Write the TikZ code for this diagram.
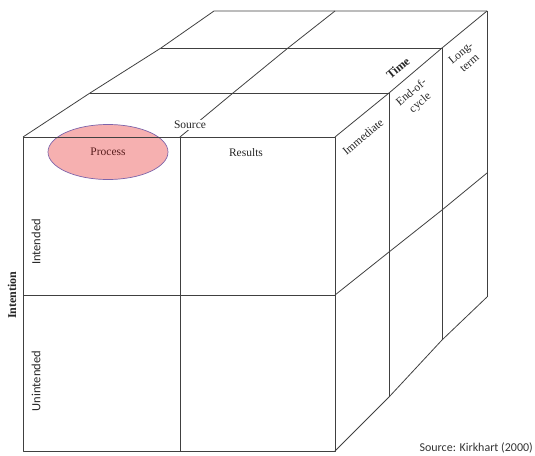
\documentclass[tikz,border=0pt]{standalone}
\usepackage{fontspec}
\usetikzlibrary{shapes.geometric}
\setmainfont{Liberation Serif}
\newfontfamily\notefont{Carlito}
\begin{document}
\begin{tikzpicture}[x=1pt,y=-1pt,
  edge/.style={draw=black!75,line width=0.8pt,line join=round},
  lbl/.style={font=\fontsize{11.5}{12}\selectfont,text=black!85,inner sep=1pt},
  side/.style={lbl,font=\notefont\fontsize{12.5}{13}\selectfont},
  rlbl/.style={lbl,rotate=40,align=center,font=\fontsize{11.5}{13.5}\selectfont},
  axis/.style={lbl,font=\fontsize{12}{13}\selectfont\bfseries}]
\useasboundingbox (0,0) rectangle (535,455);
% front face corners
\coordinate (ftl) at (23,137);  \coordinate (ftr) at (335,137);
\coordinate (fbl) at (23,451);  \coordinate (fbr) at (335,451);
\coordinate (ftm) at (180,137); \coordinate (fbm) at (180,451);
\coordinate (fml) at (23,295);  \coordinate (fmr) at (335,295);
% depth layers on the top face
\coordinate (a1) at (90,93);   \coordinate (b1) at (389,93);
\coordinate (a2) at (161,48);  \coordinate (b2) at (442,48);
\coordinate (a3) at (214,11);  \coordinate (b3) at (487,11);
\coordinate (m1) at (233,93);  \coordinate (m2) at (288,48);  \coordinate (m3) at (335,11);
% depth layers on the right face
\coordinate (d1) at (389,397); \coordinate (d2) at (442,340); \coordinate (d3) at (487,297);
\coordinate (r1) at (389,252); \coordinate (r2) at (442,210); \coordinate (r3) at (487,173);

% highlighted cell
\node[ellipse,minimum width=120pt,minimum height=55pt,fill={rgb,255:red,246;green,176;blue,176},
      draw={rgb,255:red,125;green,100;blue,170},line width=0.7pt] (proc) at (108,152) {};
\node[lbl,text={rgb,255:red,90;green,30;blue,30}] (proctxt) at (proc.center) {Process};

% front face
\draw[edge] (ftl) rectangle (fbr);
\draw[edge] (ftm) -- (fbm);
\draw[edge] (fml) -- (fmr);
% top face
\draw[edge] (ftl) -- (a1) -- (a2) -- (a3) -- (b3);
\draw[edge] (a1) -- (b1);
\draw[edge] (a2) -- (b2);
\draw[edge] (ftm) -- (m1) -- (m2) -- (m3);
\draw[edge] (ftr) -- (b1) -- (b2) -- (b3);
% right face
\draw[edge] (b1) -- (d1);
\draw[edge] (b2) -- (d2);
\draw[edge] (b3) -- (d3);
\draw[edge] (fbr) -- (d1) -- (d2) -- (d3);
\draw[edge] (fmr) -- (r1) -- (r2) -- (r3);

% labels
\node[lbl,fill=white] (source) at (190,125) {Source};
\node[lbl] (results) at (246,153) {Results};
\node[axis,rotate=90] (intention) at (12,295) {Intention};
\node[side,rotate=90] (intended) at (36,242) {Intended};
\node[side,rotate=90] (unintended) at (36,381) {Unintended};
\node[axis,rotate=40] (time) at (398,68) {Time};
\node[rlbl] (immediate) at (363,137) {Immediate};
\node[rlbl] (endcycle) at (416,98) {End-of-\\cycle};
\node[rlbl] (longterm) at (465,58) {Long-\\term};
\node[inner sep=0pt,font=\notefont\fontsize{12}{13}\selectfont,text=black!80,anchor=east] (credit) at (533,448) {Source: Kirkhart (2000)};
\end{tikzpicture}
\end{document}
